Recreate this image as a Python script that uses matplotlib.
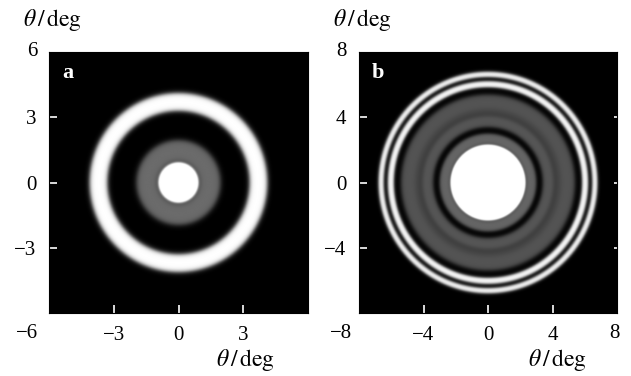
import numpy as np
import matplotlib
matplotlib.use("Agg")
import matplotlib.pyplot as plt

plt.rcParams['font.family'] = ['Liberation Serif', 'DejaVu Serif']
plt.rcParams['mathtext.fontset'] = 'stix'

# ---- data: ring structure (radius in deg, grey level 0..1) ----
a_limit = 6
a_ticks = [-3, 0, 3]
a_ring_inner = [0.0, 0.93, 3.30]
a_ring_outer = [0.93, 1.95, 4.12]
a_ring_level = [1.0, 0.42, 1.0]
a_ring_soft = [0.03, 0.07, 0.06]

b_limit = 8
b_ticks = [-4, 0, 4]
b_ring_inner = [0.0, 2.33, 3.40, 4.05, 4.45, 5.85, 6.48]
b_ring_outer = [2.33, 3.00, 4.05, 4.45, 5.40, 6.22, 6.80]
b_ring_level = [1.0, 0.40, 0.34, 0.24, 0.33, 1.0, 1.0]
b_ring_soft = [0.03, 0.06, 0.07, 0.07, 0.08, 0.05, 0.05]

axis_label = r'$\theta\,/\,\mathrm{deg}$'


def sig(x):
    return 1.0 / (1.0 + np.exp(-x))


def ring_image(limit, inner, outer, level, soft, n=600):
    v = np.linspace(-limit, limit, n)
    X, Y = np.meshgrid(v, v)
    R = np.hypot(X, Y)
    img = np.zeros_like(R)
    for ri, ro, lv, s in zip(inner, outer, level, soft):
        lo = sig((R - ri) / s) if ri > 0 else np.ones_like(R)
        img += lv * (lo - sig((R - ro) / s))
    return np.clip(img, 0, 1)


fig = plt.figure(figsize=(6.31, 3.76), dpi=100)
W, H = 631.0, 376.0


def ftext(x, y, s, **kw):
    return fig.text(x / W, 1 - y / H, s, **kw)


panels = [
    dict(rect=(49, 52, 259, 261), lim=a_limit, ticks=a_ticks,
         rings=(a_ring_inner, a_ring_outer, a_ring_level, a_ring_soft), tag='a',
         top=(37, 52), bot=(38, 333), lab_top=52, lab_bot=245),
    dict(rect=(359, 52, 258, 261), lim=b_limit, ticks=b_ticks,
         rings=(b_ring_inner, b_ring_outer, b_ring_level, b_ring_soft), tag='b',
         top=(347, 52), bot=(352, 333), lab_top=362, lab_bot=557),
]

fs = 15
for p in panels:
    x0, y0, w, h = p['rect']
    ax = fig.add_axes([x0 / W, 1 - (y0 + h) / H, w / W, h / H])
    lim = p['lim']
    img = ring_image(lim, *p['rings'])
    ax.imshow(img, cmap='gray', vmin=0, vmax=1, extent=(-lim, lim, -lim, lim),
              origin='lower', interpolation='bilinear', aspect='auto')
    ax.set_xlim(-lim, lim)
    ax.set_ylim(-lim, lim)
    ax.set_xticks(p['ticks'])
    ax.set_yticks(p['ticks'])
    ax.set_xticklabels([f'{t}'.replace('-', '\u2212') for t in p['ticks']])
    ax.set_yticklabels([f'{t}'.replace('-', '\u2212') for t in p['ticks']])
    ax.tick_params(direction='in', color='white', length=6, width=1.2,
                   labelsize=fs, pad=9)
    ax.tick_params(axis='x', pad=9)
    for s in ax.spines.values():
        s.set_color('black')
    if p['tag'] == 'b':
        ax.tick_params(axis='y', which='major', right=True, labelright=False)
        for t in ax.yaxis.get_major_ticks():
            t.tick2line.set_color('#c8c8c8')
            t.tick2line.set_markersize(2)
            t.tick2line.set_marker(0)
        ftext(614, 333, f'{lim}', ha='center', va='center', fontsize=fs)
    # edge labels
    ftext(p['top'][0], p['top'][1], f'{lim}', ha='right', va='center', fontsize=fs)
    ftext(p['bot'][0], p['bot'][1], f'\u2212{lim}', ha='right', va='center', fontsize=fs)
    ax.text(0.05, 0.92, p['tag'], transform=ax.transAxes, ha='left', va='center',
            color='white', fontsize=16, fontweight='bold')
    # axis labels
    ftext(p['lab_top'], 20, axis_label, ha='center', va='center', fontsize=17)
    ftext(p['lab_bot'], 360, axis_label, ha='center', va='center', fontsize=17)

fig.savefig('out.png', dpi=100)
